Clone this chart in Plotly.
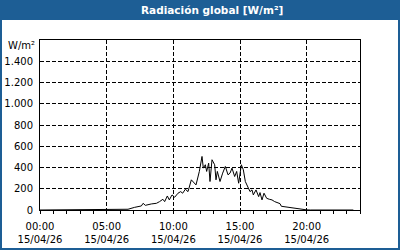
import plotly.graph_objects as go

DAY = "2026-04-15"
times = ["00:00", "06:24", "06:36", "07:06", "07:36", "07:44", "07:54", "08:21", "08:44", "08:58",
         "09:13", "09:21", "09:33", "09:42", "09:54", "10:06", "10:21", "10:33", "10:42", "10:54",
         "11:06", "11:21", "11:42", "11:57", "12:09", "12:15", "12:24", "12:30", "12:39", "12:45",
         "12:54", "13:06", "13:12", "13:18", "13:30", "13:42", "13:54", "14:06", "14:15", "14:24",
         "14:36", "14:45", "14:54", "15:06", "15:15", "15:24", "15:36", "15:45", "15:54", "16:00",
         "16:12", "16:24", "16:30", "16:39", "16:48", "17:00", "17:12", "17:24", "17:36", "17:51",
         "18:00", "18:06", "18:30", "18:54", "19:18", "19:42", "20:00", "20:18", "23:30"]
radiation = [0, 0, 7, 25, 38, 63, 44, 57, 63, 79,
             101, 79, 132, 95, 142, 120, 158, 173, 158, 195,
             173, 284, 236, 363, 504, 394, 426, 363, 441, 268,
             473, 426, 284, 363, 268, 347, 410, 331, 347, 394,
             315, 363, 252, 426, 378, 268, 221, 173, 189, 142,
             189, 126, 164, 95, 158, 110, 101, 95, 79, 63,
             60, 35, 28, 22, 9, 4, 1, 0, 0]
x_ticks = ["00:00", "05:00", "10:00", "15:00", "20:00"]
y_ticks = [0, 200, 400, 600, 800, 1000, 1200, 1400]
title_text = "Radiación global [W/m²]"
unit_text = "W/m²"

BLUE = "#1d5e95"
FONT = "DejaVu Sans"

x = [f"{DAY} {t}" for t in times]

fig = go.Figure()
fig.add_trace(go.Scatter(x=x, y=radiation, mode="lines",
                         line=dict(color="black", width=1), hoverinfo="skip"))

L, R, T, B = 40, 40, 40, 40
W, H = 400, 250
pw, ph = W - L - R, H - T - B

def px_x(p):
    return (p - L) / pw

def px_y(p):
    return (H - B - p) / ph

fig.update_layout(
    width=W, height=H,
    margin=dict(l=L, r=R, t=T, b=B, pad=0, autoexpand=False),
    paper_bgcolor=BLUE, plot_bgcolor="white",
    showlegend=False,
    separators=",.",
    font=dict(family=FONT, size=10, color="black"),
    shapes=[dict(type="rect", xref="paper", yref="paper",
                 x0=px_x(2), x1=px_x(398), y0=px_y(248), y1=px_y(20),
                 fillcolor="white", line=dict(width=0), layer="below")],
    annotations=[
        dict(text=f"<b>{title_text}</b>", xref="paper", yref="paper",
             x=px_x(212), y=px_y(10), xanchor="center", yanchor="middle",
             showarrow=False, font=dict(family=FONT, size=10.5, color="white")),
        dict(text=unit_text, xref="paper", yref="paper",
             x=px_x(37), y=px_y(45), xanchor="right", yanchor="middle",
             showarrow=False, font=dict(family=FONT, size=10, color="black")),
    ],
)

fig.update_xaxes(
    type="date", automargin=False,
    range=[f"{DAY} 00:00", "2026-04-16 00:00"],
    tickmode="array",
    tickvals=[f"{DAY} {t}" for t in x_ticks],
    tickformat="%H:%M<br>%d/%m/%y",
    ticks="outside", ticklen=3, tickcolor="black", ticklabelstandoff=4,
    minor=dict(dtick=3600000, tick0=f"{DAY} 00:00", ticks="outside",
               ticklen=3, tickcolor="black", showgrid=False),
    showline=True, linecolor="black", linewidth=1, mirror=True,
    showgrid=True, gridcolor="black", gridwidth=1, griddash="4px,2px",
    zeroline=False, fixedrange=True,
)
fig.update_yaxes(
    range=[0, 1600], automargin=False,
    tickmode="array", tickvals=y_ticks,
    separatethousands=True,
    ticks="", ticklabelstandoff=4,
    showline=True, linecolor="black", linewidth=1, mirror=True,
    showgrid=True, gridcolor="black", gridwidth=1, griddash="4px,2px",
    zeroline=False, fixedrange=True,
)

fig.write_html("out.html", config=dict(displayModeBar=False))
